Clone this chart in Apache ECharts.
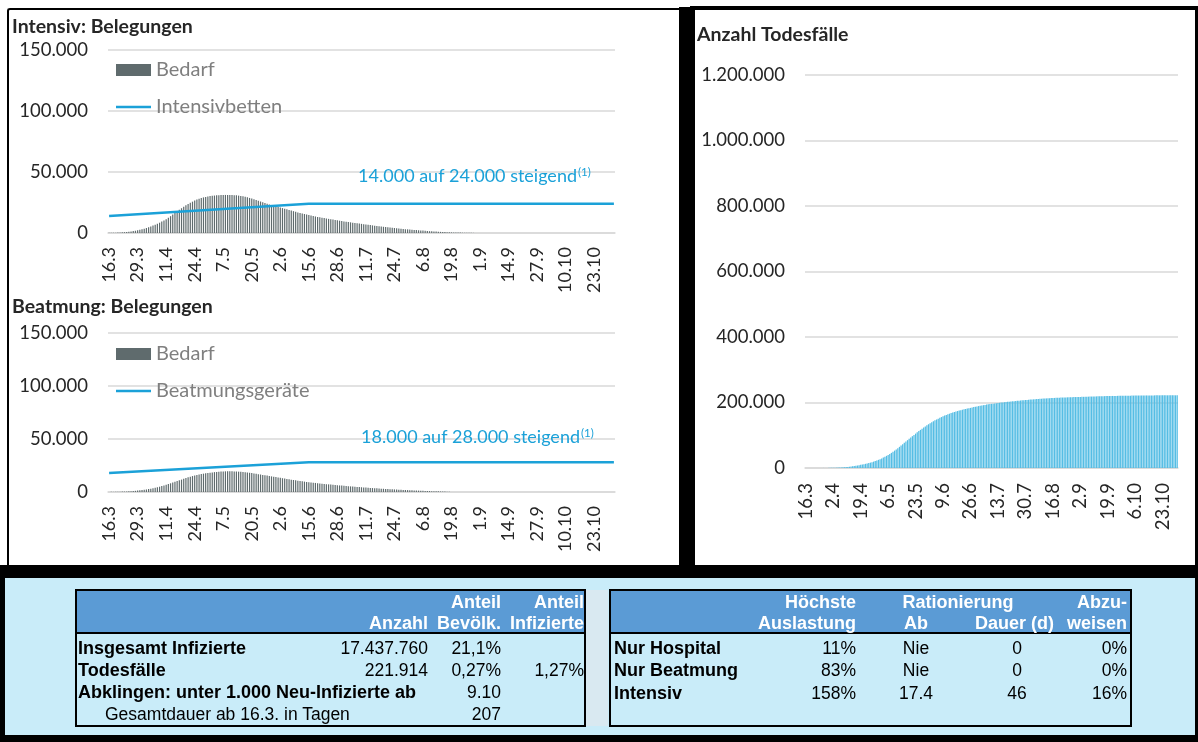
<!DOCTYPE html>
<html><head><meta charset="utf-8">
<script src="https://cdn.jsdelivr.net/npm/echarts@6/dist/echarts.min.js"></script>
<style>
html,body{margin:0;padding:0;width:1198px;height:742px;overflow:hidden;background:#fff;}
.abs{position:absolute;}
#chart{position:absolute;left:0;top:0;width:1198px;height:742px;z-index:2;}
.t{position:absolute;font-family:"Liberation Sans",Arial,sans-serif;font-size:17.5px;line-height:20px;white-space:nowrap;color:#000;z-index:3;}
.b{font-weight:bold;font-size:18px;}
.w{color:#fff;font-weight:bold;font-size:18px;}
</style></head><body>
<div class="abs" style="left:7px;top:8px;width:673px;height:557px;border-left:2px solid #000;border-top:2px solid #000;box-sizing:border-box;border-top-left-radius:3px;"></div>
<div class="abs" style="left:679px;top:7px;width:16px;height:560px;background:#000;"></div>
<div class="abs" style="left:690px;top:6px;width:508px;height:4px;background:#000;"></div>
<div class="abs" style="left:1195px;top:6px;width:3px;height:562px;background:#000;"></div>
<div class="abs" style="left:0;top:565px;width:1198px;height:177px;background:#000;"></div>
<div class="abs" style="left:5px;top:578px;width:1190px;height:157px;background:#C9ECF9;"></div>
<div class="abs" style="left:586px;top:590px;width:22px;height:136px;background:#D9E9F1;"></div>
<div class="abs" style="left:75px;top:589px;width:511px;height:138px;border:2px solid #000;box-sizing:border-box;">
  <div style="height:43px;background:#5B9BD5;border-bottom:2px solid #000;box-sizing:border-box;"></div>
</div>
<div class="abs" style="left:609px;top:589px;width:523px;height:138px;border:2px solid #000;box-sizing:border-box;">
  <div style="height:43px;background:#5B9BD5;border-bottom:2px solid #000;box-sizing:border-box;"></div>
</div>
<div id="chart"></div>
<script>
// ---------- categories (daily, 16.3 .. 1.11) ----------
const monthSpans = [[3,16,31],[4,1,30],[5,1,31],[6,1,30],[7,1,31],[8,1,31],[9,1,30],[10,1,31],[11,1,1]];
const categories = [];
monthSpans.forEach(([m, a, b]) => { for (let d = a; d <= b; d++) categories.push(d + '.' + m); });

// ---------- series values ----------
const intensivBedarf = [
150,190,240,300,370,460,570,700,860,1050,
1280,1550,1860,2200,2600,3050,3550,4100,4700,5350,
6050,6800,7600,8450,9350,10300,11300,12500,13800,15100,
16400,17700,19000,20300,21500,22700,23800,24800,25700,26600,
27400,28100,28700,29200,29600,30000,30300,30500,30700,30850,
31000,31100,31150,31200,31200,31150,31100,31000,30850,30650,
30400,30100,29700,29250,28750,28200,27600,27000,26400,25800,
25200,24600,24000,23400,22900,22400,21900,21400,20900,20400,
19900,19400,18900,18400,17900,17400,16900,16450,16000,15550,
15100,14700,14300,13900,13550,13200,12850,12500,12200,11900,
11600,11300,11000,10700,10400,10100,9800,9500,9250,9000,
8750,8500,8250,8000,7750,7500,7250,7000,6750,6500,
6250,6000,5750,5500,5300,5100,4900,4700,4500,4300,
4100,3900,3700,3500,3300,3150,3000,2850,2700,2550,
2400,2250,2100,1950,1800,1650,1500,1380,1260,1150,
1040,940,850,760,680,600,530,470,410,360,
310,270,230,200,170,140,120,100,80,60,
50,0,0,0,0,0,0,0,0,0,
0,0,0,0,0,0,0,0,0,0,
0,0,0,0,0,0,0,0,0,0,
0,0,0,0,0,0,0,0,0,0,
0,0,0,0,0,0,0,0,0,0,
0,0,0,0,0,0,0,0,0,0,
0];
const beatmungBedarf = [
100,120,150,190,240,300,370,450,550,670,
800,950,1120,1320,1550,1800,2080,2400,2750,3130,
3550,4000,4480,5000,5550,6150,6800,7500,8200,8900,
9600,10300,11000,11700,12400,13100,13800,14450,15050,15600,
16100,16550,16950,17300,17650,17950,18250,18500,18750,18950,
19150,19300,19400,19500,19550,19550,19500,19450,19350,19200,
19050,18850,18650,18400,18150,17850,17550,17200,16850,16500,
16150,15800,15450,15100,14750,14400,14050,13700,13350,13000,
12650,12300,11950,11600,11300,11000,10700,10400,10100,9800,
9550,9300,9050,8800,8550,8300,8080,7860,7640,7420,
7200,7000,6800,6600,6400,6200,6020,5840,5660,5480,
5300,5130,4960,4800,4640,4480,4320,4170,4020,3870,
3720,3580,3440,3300,3170,3040,2910,2790,2670,2550,
2440,2330,2220,2110,2000,1900,1800,1700,1600,1500,
1410,1320,1230,1140,1050,970,890,810,740,670,
600,530,470,410,350,300,0,0,0,0,
0,0,0,0,0,0,0,0,0,0,
0,0,0,0,0,0,0,0,0,0,
0,0,0,0,0,0,0,0,0,0,
0,0,0,0,0,0,0,0,0,0,
0,0,0,0,0,0,0,0,0,0,
0,0,0,0,0,0,0,0,0,0,
0,0,0,0,0,0,0,0,0,0,
0];
const todesfaelle = [
0,5,10,20,30,45,60,80,100,130,
160,200,250,310,380,460,560,680,820,990,
1190,1420,1690,2000,2360,2780,3260,3800,4410,5090,
5840,6670,7580,8570,9640,10700,11750,12750,13850,15050,
16380,17830,19410,21120,22970,24960,27090,29370,31800,34380,
37110,39990,42990,46190,49590,53140,56840,60660,64580,68580,
72640,76740,80860,84980,89080,93140,97140,101070,104920,108820,
112650,116400,120060,123620,127070,130410,133640,136760,139770,142670,
145460,148140,150710,153170,155530,157790,159950,162010,163970,165840,
167620,169320,170940,172480,173950,175350,176690,177970,179190,180350,
181460,182520,183530,184730,185880,186980,188030,189040,190010,190940,
191830,192690,193520,194320,195090,195830,196540,197230,197890,198530,
199150,199750,200340,200920,201490,202050,202600,203140,203670,204190,
204700,205200,205690,206170,206640,207100,207550,207990,208420,208840,
209250,209650,210040,210420,210790,211150,211500,211840,212170,212490,
212800,213100,213390,213670,213940,214200,214450,214690,214920,215140,
215350,215550,215740,215920,216095,216265,216430,216590,216745,216895,
217040,217200,217360,217520,217680,217840,218000,218160,218320,218480,
218630,218780,218930,219080,219220,219360,219500,219640,219760,219870,
219980,220090,220190,220290,220390,220480,220570,220660,220740,220820,
220900,220980,221050,221120,221190,221250,221310,221370,221420,221470,
221520,221560,221600,221640,221680,221710,221740,221770,221790,221810,
221830,221850,221865,221875,221885,221892,221898,221903,221907,221911,
221914];
// capacity lines: start, end of ramp, end of period
const intensivbetten = [['16.3',14000],['15.6',24000],['1.11',24000]];
const beatmungsgeraete = [['16.3',18000],['15.6',28000],['1.11',28000]];

// ---------- texts ----------
const titles = ['Intensiv: Belegungen','Beatmung: Belegungen','Anzahl Todesfälle'];
const notes = ['14.000 auf 24.000 steigend','18.000 auf 28.000 steigend'];
const noteMark = '(1)';
const tblLeftHeader = [['','Anzahl'],['Anteil','Bevölk.'],['Anteil','Infizierte']];
const tblLeftRows = [
  ['Insgesamt Infizierte','17.437.760','21,1%',''],
  ['Todesfälle','221.914','0,27%','1,27%'],
  ['Abklingen: unter 1.000 Neu-Infizierte ab','','9.10',''],
  ['Gesamtdauer ab 16.3. in Tagen','','207','']
];
const tblRightRows = [
  ['Nur Hospital','11%','Nie','0','0%'],
  ['Nur Beatmung','83%','Nie','0','0%'],
  ['Intensiv','158%','17.4','46','16%']
];

// ---------- tables (HTML text) ----------
function put(txt, x, yc, align, cls) {
  const d = document.createElement('div');
  d.className = 't ' + (cls || '');
  d.textContent = txt;
  d.style.top = (yc - 10) + 'px';
  if (align === 'right') { d.style.left = (x - 400) + 'px'; d.style.width = '400px'; d.style.textAlign = 'right'; }
  else if (align === 'center') { d.style.left = (x - 200) + 'px'; d.style.width = '400px'; d.style.textAlign = 'center'; }
  else { d.style.left = x + 'px'; }
  document.body.appendChild(d);
}
const lColR = [428, 501, 584];
const hdrY = [602, 623];
tblLeftHeader.forEach((pair, c) => pair.forEach((s, r) => { if (s) put(s, lColR[c], hdrY[r], 'right', 'w'); }));
const rowY = [648, 670, 692, 714];
tblLeftRows.forEach((row, r) => {
  put(row[0], r === 3 ? 105 : 78, rowY[r], 'left', r === 3 ? '' : 'b');
  for (let c = 1; c < 4; c++) if (row[c]) put(row[c], lColR[c - 1], rowY[r], 'right', '');
});
put('Höchste', 856, hdrY[0], 'right', 'w');
put('Auslastung', 856, hdrY[1], 'right', 'w');
put('Rationierung', 958, hdrY[0], 'center', 'w');
put('Ab', 916, hdrY[1], 'center', 'w');
put('Dauer (d)', 1054, hdrY[1], 'right', 'w');
put('Abzu-', 1127, hdrY[0], 'right', 'w');
put('weisen', 1127, hdrY[1], 'right', 'w');
const rRowY = [648, 670, 693];
tblRightRows.forEach((row, r) => {
  put(row[0], 614, rRowY[r], 'left', 'b');
  put(row[1], 856, rRowY[r], 'right', '');
  put(row[2], 916, rRowY[r], 'center', '');
  put(row[3], 1017, rRowY[r], 'center', '');
  put(row[4], 1127, rRowY[r], 'right', '');
});

// ---------- chart ----------
const FONT = 'Lato';
const fmtDE = v => String(v).replace(/\B(?=(\d{3})+(?!\d))/g, '.');
const gridLine = { lineStyle: { color: '#d9d9d9', width: 1.5 } };
function xAx(g, interval, fs, margin) {
  return { type: 'category', gridIndex: g, data: categories, boundaryGap: true,
    axisLine: { lineStyle: { color: '#d9d9d9', width: 1.5 } }, axisTick: { show: false },
    axisLabel: { interval: interval, rotate: 90, fontSize: fs, color: '#262626', fontFamily: FONT, margin: margin } };
}
function yAx(g, max, interval) {
  return { type: 'value', gridIndex: g, min: 0, max: max, interval: interval,
    axisLine: { show: false }, axisTick: { show: false }, splitLine: gridLine,
    axisLabel: { formatter: fmtDE, fontSize: 18.5, color: '#262626', fontFamily: FONT, margin: 20 } };
}
const titleStyle = { fontSize: 19.5, fontWeight: 'bold', color: '#262626', fontFamily: FONT };
const legendText = { fontSize: 20, color: '#7f7f7f', fontFamily: FONT, lineHeight: 20 };
const lineColor = '#1ba1d8';
function leg(name, top, h) {
  return { data: [{ name: name, icon: 'rect' }], orient: 'vertical', left: 116, top: top, padding: 0,
    itemWidth: 35, itemHeight: h, textStyle: legendText, selectedMode: false };
}

const option = {
  animation: false,
  backgroundColor: 'transparent',
  title: [
    { text: titles[0], left: 12, top: 17, padding: 0, textStyle: titleStyle },
    { text: titles[1], left: 12, top: 297, padding: 0, textStyle: titleStyle },
    { text: titles[2], left: 697, top: 25, padding: 0, textStyle: titleStyle }
  ],
  legend: [
    leg('Bedarf', 60, 12), leg('Intensivbetten', 97, 2.5),
    leg('Bedarf', 344, 12), leg('Beatmungsgeräte', 381, 2.5)
  ],
  grid: [
    { left: 108, top: 50, width: 507, height: 183, outerBoundsMode: 'none' },
    { left: 108, top: 333, width: 507, height: 159, outerBoundsMode: 'none' },
    { left: 805, top: 75, width: 373, height: 393, outerBoundsMode: 'none' }
  ],
  xAxis: [xAx(0, 12, 18, 14), xAx(1, 12, 18, 14), xAx(2, 16, 18.5, 15)],
  yAxis: [yAx(0, 150000, 50000), yAx(1, 150000, 50000), yAx(2, 1200000, 200000)],
  series: [
    { type: 'bar', name: 'Bedarf', xAxisIndex: 0, yAxisIndex: 0, data: intensivBedarf,
      itemStyle: { color: '#5f6b6d' }, barCategoryGap: '45%' },
    { type: 'line', name: 'Intensivbetten', xAxisIndex: 0, yAxisIndex: 0, data: intensivbetten,
      symbol: 'none', lineStyle: { color: lineColor, width: 2.5 }, itemStyle: { color: lineColor }, z: 5 },
    { type: 'bar', name: 'Bedarf', xAxisIndex: 1, yAxisIndex: 1, data: beatmungBedarf,
      itemStyle: { color: '#5f6b6d' }, barCategoryGap: '45%' },
    { type: 'line', name: 'Beatmungsgeräte', xAxisIndex: 1, yAxisIndex: 1, data: beatmungsgeraete,
      symbol: 'none', lineStyle: { color: lineColor, width: 2.5 }, itemStyle: { color: lineColor }, z: 5 },
    { type: 'bar', name: 'Todesfälle', xAxisIndex: 2, yAxisIndex: 2, data: todesfaelle,
      itemStyle: { color: '#55bde4' }, barCategoryGap: '22%' }
  ],
  graphic: [
    { type: 'text', z: 10, style: { text: notes[0], x: 577, y: 176, fill: lineColor, fontSize: 18, fontFamily: FONT,
      align: 'right', textAlign: 'right', verticalAlign: 'middle', textVerticalAlign: 'middle' } },
    { type: 'text', z: 10, style: { text: noteMark, x: 578, y: 172, fill: lineColor, fontSize: 11.5, fontFamily: FONT,
      align: 'left', textAlign: 'left', verticalAlign: 'middle', textVerticalAlign: 'middle' } },
    { type: 'text', z: 10, style: { text: notes[1], x: 580, y: 437, fill: lineColor, fontSize: 18, fontFamily: FONT,
      align: 'right', textAlign: 'right', verticalAlign: 'middle', textVerticalAlign: 'middle' } },
    { type: 'text', z: 10, style: { text: noteMark, x: 581, y: 433, fill: lineColor, fontSize: 11.5, fontFamily: FONT,
      align: 'left', textAlign: 'left', verticalAlign: 'middle', textVerticalAlign: 'middle' } }
  ]
};
const chart = echarts.init(document.getElementById('chart'), null, { renderer: 'canvas' });
chart.setOption(option);
</script>
</body></html>
